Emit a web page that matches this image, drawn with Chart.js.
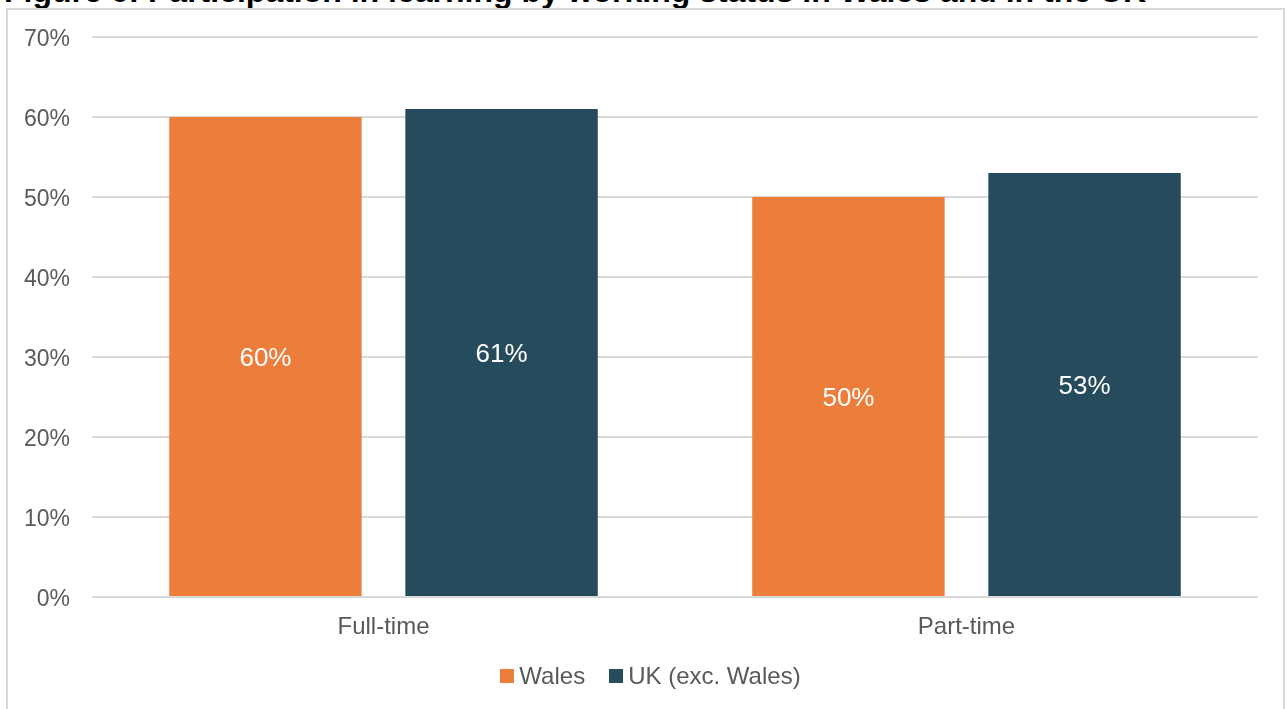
<!DOCTYPE html>
<html lang="en">
<head>
    <meta charset="UTF-8">
    <title>Participation in learning by working status</title>
    <script src="https://cdn.jsdelivr.net/npm/chart.js"></script>
    <style>
        html, body { margin: 0; padding: 0; background: #fff; overflow: hidden; }
        #page { position: relative; width: 1287px; height: 709px; overflow: hidden; }
        #title {
            position: absolute; left: 4px; top: -27px; white-space: nowrap; line-height: 32px;
            font: bold 32px "Liberation Sans", Arial, sans-serif; color: #000;
        }
        #frame {
            position: absolute; left: 6px; top: 8px; width: 1279px; height: 720px;
            border: 2px solid #d9d9d9; box-sizing: border-box;
        }
        #wrap { position: absolute; left: 0; top: 0; width: 1287px; height: 709px; }
        #legend {
            position: absolute; left: 0; top: 662px; width: 1301px; display: flex; justify-content: center;
            font: 24px "Liberation Sans", Arial, sans-serif; color: #595959; line-height: 28px;
        }
        #legend span.item { display: flex; align-items: center; margin: 0 12px; }
        #legend span.box { display: inline-block; width: 14px; height: 14px; margin-right: 5px; }
    </style>
</head>
<body>
<div id="page">
    <div id="title">Figure 6: Participation in learning by working status in Wales and in the UK</div>
    <div id="frame"></div>
    <div id="wrap"><canvas id="barChart"></canvas></div>
    <div id="legend"></div>
</div>

<script>
    // working status groups and participation shares (%)
    const categories = ['Full-time', 'Part-time'];
    const walesValues = [60, 50];
    const ukValues = [61, 53];
    const seriesNames = ['Wales', 'UK (exc. Wales)'];
    const seriesColors = ['#ED7D3B', '#264B5C'];
    const yTicks = [0, 10, 20, 30, 40, 50, 60, 70];

    const textColor = '#595959';
    const fontFamily = '"Liberation Sans", Arial, sans-serif';

    // writes each bar's value in the middle of the bar
    const barLabels = {
        id: 'barLabels',
        afterDatasetsDraw(chart) {
            const ctx = chart.ctx;
            ctx.save();
            ctx.fillStyle = '#ffffff';
            ctx.font = '26px ' + fontFamily;
            ctx.textAlign = 'center';
            ctx.textBaseline = 'middle';
            chart.data.datasets.forEach((ds, i) => {
                chart.getDatasetMeta(i).data.forEach((bar, j) => {
                    const mid = (bar.y + bar.base) / 2;
                    ctx.fillText(ds.data[j] + '%', bar.x, mid + 2);
                });
            });
            ctx.restore();
        }
    };

    const chart = new Chart(document.getElementById('barChart'), {
        type: 'bar',
        data: {
            labels: categories,
            datasets: [
                { label: seriesNames[0], data: walesValues, backgroundColor: seriesColors[0] },
                { label: seriesNames[1], data: ukValues, backgroundColor: seriesColors[1] }
            ]
        },
        options: {
            responsive: true,
            maintainAspectRatio: false,
            animation: false,
            categoryPercentage: 0.81,
            barPercentage: 0.815,
            layout: { padding: { top: 37, left: 0, right: 29, bottom: 62 } },
            plugins: {
                legend: { display: false },
                tooltip: { enabled: false }
            },
            scales: {
                x: {
                    afterFit(scale) { scale.height = 50; },
                    grid: { display: false },
                    border: { display: false },
                    ticks: { color: textColor, font: { family: fontFamily, size: 24 }, padding: 8 }
                },
                y: {
                    min: 0, max: 70,
                    afterFit(scale) { scale.width = 92; },
                    afterBuildTicks(scale) { scale.ticks = yTicks.map(v => ({ value: v })); },
                    grid: { color: '#d9d9d9', lineWidth: 2, drawTicks: false },
                    border: { display: false },
                    ticks: {
                        color: textColor, font: { family: fontFamily, size: 23 }, padding: 22,
                        labelOffset: 3,
                        callback: v => v + '%'
                    }
                }
            }
        },
        plugins: [barLabels]
    });

    // legend below the axis, built from the dataset names and colours
    const legend = document.getElementById('legend');
    chart.data.datasets.forEach(ds => {
        const item = document.createElement('span');
        item.className = 'item';
        const box = document.createElement('span');
        box.className = 'box';
        box.style.background = ds.backgroundColor;
        item.appendChild(box);
        item.appendChild(document.createTextNode(ds.label));
        legend.appendChild(item);
    });
</script>
</body>
</html>
